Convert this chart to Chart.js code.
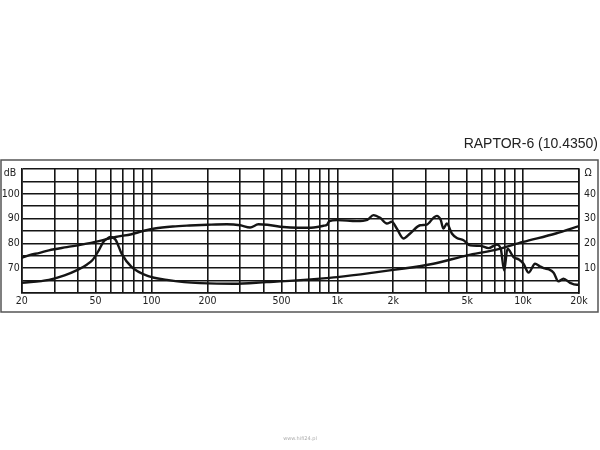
<!DOCTYPE html>
<html>
<head>
<meta charset="utf-8">
<script src="https://cdn.jsdelivr.net/npm/chart.js@4.4.1/dist/chart.umd.min.js"></script>
<style>
  html, body { margin: 0; padding: 0; background: #fff; }
</style>
</head>
<body>
<canvas id="raptorChart" width="600" height="450"></canvas>
<script>
// Frequency response (dB) and impedance (Ω)
const splFreq = [20, 22, 25, 28, 35, 42, 52, 64, 78, 90, 104, 130, 160, 200, 254, 300, 339, 376, 420, 513, 557, 700, 842, 880, 906, 1000, 1273, 1450, 1564, 1700, 1848, 1965, 2090, 2270, 2466, 2792, 3034, 3292, 3434, 3600, 3727, 3888, 4136, 4400, 4777, 5188, 5876, 6512, 7228, 7600, 7911, 8240, 8874, 9500, 10050, 10700, 11600, 12300, 12900, 13800, 14600, 15500, 16500, 17900, 19500, 20000];
const splDb = [74.2, 75.3, 76.2, 77.2, 78.5, 79.5, 80.9, 82.6, 83.7, 85, 86, 86.8, 87.2, 87.5, 87.7, 87.3, 86.4, 87.7, 87.5, 86.6, 86.4, 86.3, 87.1, 87.5, 89, 89.4, 89, 89.5, 91.4, 90.3, 88, 88.7, 86, 82, 84, 87.3, 87.6, 90.3, 91.1, 89.5, 86, 88, 84, 82.2, 81.3, 79.2, 79, 78.1, 79.5, 77.5, 69.1, 77.9, 74.5, 73.5, 71.8, 68.2, 71.8, 70.8, 70, 69.5, 68.2, 64.7, 65.8, 64.1, 63.3, 63.5];

const impFreq = [20, 28, 34, 40, 45, 48, 52, 55, 58, 60, 64, 69, 78, 96, 121, 150, 182, 276, 417, 580, 906, 1000, 1564, 2000, 3292, 5000, 7000, 10000, 15000, 20000];
const impOhm = [4.1, 5.3, 7.1, 9.3, 11.5, 13.2, 17.2, 20.6, 22, 22.6, 21.5, 15.9, 10.5, 6.8, 5.3, 4.4, 4, 3.7, 4.4, 5.0, 6.1, 6.4, 8.2, 9.3, 11.8, 15.2, 17.3, 20.6, 24, 27];

// Grid / tick labels
const gridFreqs = [20, 30, 40, 50, 60, 70, 80, 90, 100, 200, 300, 400, 500, 600, 700, 800, 900, 1000, 2000, 3000, 4000, 5000, 6000, 7000, 8000, 9000, 10000, 20000];
const freqLabelValues = [20, 50, 100, 200, 500, 1000, 2000, 5000, 10000, 20000];
const freqLabels = ['20', '50', '100', '200', '500', '1k', '2k', '5k', '10k', '20k'];
const dbLabels = [70, 80, 90, 100];
const ohmLabels = [10, 20, 30, 40];

const lineCol = '#151515';
const tickFont = { family: '"DejaVu Sans Condensed", "Liberation Sans", sans-serif', size: 10.5 };

const framePlugin = {
  id: 'frame',
  beforeDraw(chart) {
    const c = chart.ctx;
    c.save();
    c.fillStyle = '#fff';
    c.fillRect(0, 0, chart.width, chart.height);
    c.strokeStyle = '#555';
    c.lineWidth = 1.5;
    c.strokeRect(1, 160, 597, 152);
    c.restore();
  },
  afterDraw(chart) {
    const c = chart.ctx;
    c.save();
    c.fillStyle = '#222';
    c.textBaseline = 'middle';
    c.font = '14px "Liberation Sans", Arial, sans-serif';
    c.textAlign = 'right';
    c.fillText('RAPTOR-6 (10.4350)', 598, 144);
    c.font = '10.5px "DejaVu Sans Condensed", "Liberation Sans", sans-serif';
    c.textAlign = 'center';
    c.fillText('dB', 10, 173);
    c.fillText('Ω', 588, 173);
    c.font = '5px "DejaVu Sans", sans-serif';
    c.fillStyle = '#aaa';
    c.fillText('www.hifi24.pl', 300, 439);
    c.restore();
  }
};

const ctx = document.getElementById('raptorChart').getContext('2d');
const chart = new Chart(ctx, {
  type: 'line',
  data: {
    datasets: [{
      label: 'SPL',
      data: splFreq.map((f, i) => ({ x: f, y: splDb[i] })),
      yAxisID: 'y',
      borderColor: lineCol,
      borderWidth: 2.4,
      pointRadius: 0,
      cubicInterpolationMode: 'monotone'
    }, {
      label: 'Impedance',
      data: impFreq.map((f, i) => ({ x: f, y: impOhm[i] })),
      yAxisID: 'y2',
      borderColor: lineCol,
      borderWidth: 2.4,
      pointRadius: 0,
      cubicInterpolationMode: 'monotone'
    }]
  },
  options: {
    responsive: false,
    animation: false,
    layout: { padding: { top: 169, bottom: 137, left: 0, right: 0 } },
    plugins: {
      legend: { display: false },
      tooltip: { enabled: false }
    },
    scales: {
      x: {
        type: 'logarithmic',
        min: 20,
        max: 20000,
        afterBuildTicks: s => { s.ticks = gridFreqs.map(v => ({ value: v })); },
        afterFit: s => { s.height = 20; },
        ticks: {
          autoSkip: false,
          maxRotation: 0,
          padding: 2,
          color: '#222',
          font: tickFont,
          callback: v => {
            const i = freqLabelValues.indexOf(v);
            return i >= 0 ? freqLabels[i] : '';
          }
        },
        grid: { color: lineCol, lineWidth: 1.6, drawTicks: false },
        border: { color: lineCol, width: 1.6 }
      },
      y: {
        position: 'left',
        min: 60,
        max: 110,
        afterFit: s => { s.width = 21.7; },
        ticks: {
          stepSize: 5,
          autoSkip: false,
          padding: 2,
          color: '#222',
          font: tickFont,
          callback: v => dbLabels.includes(v) ? String(v) : ''
        },
        grid: { color: lineCol, lineWidth: 1.6, drawTicks: false },
        border: { color: lineCol, width: 1.6 }
      },
      y2: {
        position: 'right',
        min: 0,
        max: 50,
        afterFit: s => { s.width = 21; },
        ticks: {
          stepSize: 5,
          autoSkip: false,
          padding: 5,
          color: '#222',
          font: tickFont,
          callback: v => ohmLabels.includes(v) ? String(v) : ''
        },
        grid: { display: false, drawTicks: false },
        border: { color: lineCol, width: 1.6 }
      }
    }
  },
  plugins: [framePlugin]
});
</script>
</body>
</html>
